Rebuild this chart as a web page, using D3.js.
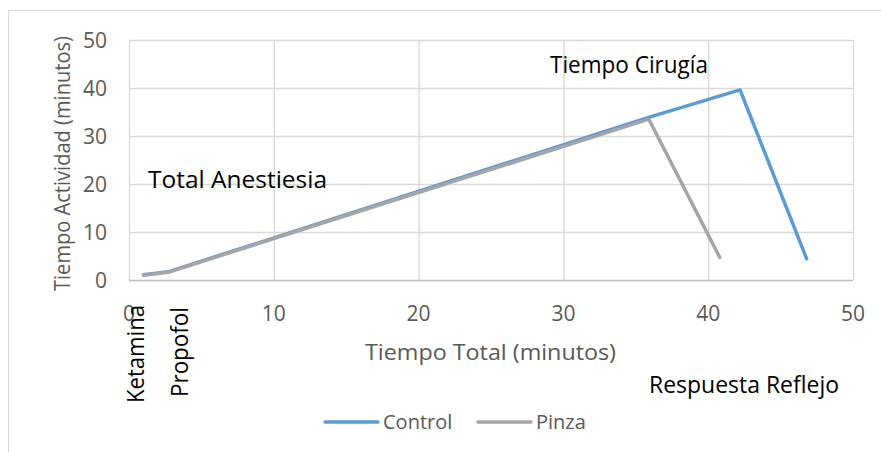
<!DOCTYPE html>
<html>
<head>
<meta charset="utf-8">
<script src="https://cdn.jsdelivr.net/npm/d3@7"></script>
<style>
  body { margin: 0; background: #fff; }
  text { font-family: "Open Sans", sans-serif; }
</style>
</head>
<body>
<svg width="881" height="452"></svg>
<script>
// values
var controlX = [1, 2.7, 36, 42.2, 46.8];
var controlY = [1.1, 1.7, 34.0, 39.6, 4.4];
var pinzaX = [1, 2.7, 35.9, 40.8];
var pinzaY = [1.0, 1.6, 33.5, 4.7];
var xTicks = [0, 10, 20, 30, 40, 50];
var yTicks = [0, 10, 20, 30, 40, 50];
var seriesNames = ["Control", "Pinza"];
var seriesColors = ["#5B9BD5", "#A5A5A5"];

var svg = d3.select("svg");

// outer chart frame
svg.append("rect")
    .attr("x", 8.5).attr("y", 10.5)
    .attr("width", 900).attr("height", 500)
    .attr("fill", "none")
    .attr("stroke", "#D9D9D9");

var x = d3.scaleLinear().domain([0, 50]).range([129, 853]);
var y = d3.scaleLinear().domain([0, 50]).range([280, 40]);

// gridlines
svg.append("g").selectAll("line")
    .data(yTicks.slice(1))
    .enter().append("line")
    .attr("x1", x(0)).attr("x2", x(50))
    .attr("y1", function(d) { return y(d) + 0.5; })
    .attr("y2", function(d) { return y(d) + 0.5; })
    .attr("stroke", "#D9D9D9").attr("stroke-width", 1.3);

svg.append("g").selectAll("line")
    .data(xTicks)
    .enter().append("line")
    .attr("x1", function(d) { return x(d) + 0.5; })
    .attr("x2", function(d) { return x(d) + 0.5; })
    .attr("y1", y(50)).attr("y2", y(0))
    .attr("stroke", "#D9D9D9").attr("stroke-width", 1.3);

// bottom axis line
svg.append("line")
    .attr("x1", x(0)).attr("x2", x(50))
    .attr("y1", y(0) + 0.5).attr("y2", y(0) + 0.5)
    .attr("stroke", "#BFBFBF").attr("stroke-width", 1.5);

// tick labels
svg.append("g").selectAll("text")
    .data(yTicks)
    .enter().append("text")
    .attr("x", x(0) - 22)
    .attr("y", function(d) { return y(d); })
    .attr("dy", "0.36em")
    .attr("text-anchor", "end")
    .attr("font-size", 21)
    .attr("fill", "#595959")
    .text(function(d) { return d; });

svg.append("g").selectAll("text")
    .data(xTicks)
    .enter().append("text")
    .attr("x", function(d) { return x(d); })
    .attr("y", 313)
    .attr("dy", "0.36em")
    .attr("text-anchor", "middle")
    .attr("font-size", 21)
    .attr("fill", "#595959")
    .text(function(d) { return d; });

// axis titles
svg.append("text")
    .attr("x", 365).attr("y", 352)
    .attr("dy", "0.36em")
    .attr("font-size", 22)
    .attr("textLength", 251)
    .attr("lengthAdjust", "spacingAndGlyphs")
    .attr("fill", "#595959")
    .text("Tiempo Total (minutos)");

svg.append("text")
    .attr("transform", "translate(70,291) rotate(-90)")
    .attr("font-size", 21)
    .attr("textLength", 255)
    .attr("lengthAdjust", "spacingAndGlyphs")
    .attr("fill", "#595959")
    .text("Tiempo Actividad (minutos)");

// series lines
var line = d3.line()
    .x(function(d) { return x(d[0]); })
    .y(function(d) { return y(d[1]); });

var series = [d3.zip(controlX, controlY), d3.zip(pinzaX, pinzaY)];

svg.append("g").selectAll("path")
    .data(series)
    .enter().append("path")
    .attr("d", line)
    .attr("fill", "none")
    .attr("stroke", function(d, i) { return seriesColors[i]; })
    .attr("stroke-width", 3.5)
    .attr("stroke-linejoin", "round")
    .attr("stroke-linecap", "round");

// text boxes laid over the chart
function note(text, tx, ty, len, rotate) {
    svg.append("text")
        .attr("transform", "translate(" + tx + "," + ty + ")" + (rotate ? " rotate(-90)" : ""))
        .attr("font-size", 23)
        .attr("textLength", len)
        .attr("lengthAdjust", "spacingAndGlyphs")
        .attr("fill", "#000")
        .text(text);
}
note("Total Anestiesia", 148, 188, 179, false);
note("Tiempo Cirugía", 550, 73, 158, false);
note("Respuesta Reflejo", 649, 393, 190, false);
note("Ketamina", 144, 403, 98, true);
note("Propofol", 188, 397, 90, true);

// legend
var legendX = [325, 478];
var legend = svg.append("g").selectAll("g")
    .data(seriesNames)
    .enter().append("g")
    .attr("transform", function(d, i) { return "translate(" + legendX[i] + ",422)"; });

legend.append("line")
    .attr("x1", 0).attr("x2", 53)
    .attr("stroke", function(d, i) { return seriesColors[i]; })
    .attr("stroke-width", 3.5)
    .attr("stroke-linecap", "round");

legend.append("text")
    .attr("x", 58)
    .attr("dy", "0.36em")
    .attr("font-size", 20)
    .attr("fill", "#595959")
    .text(function(d) { return d; });
</script>
</body>
</html>
